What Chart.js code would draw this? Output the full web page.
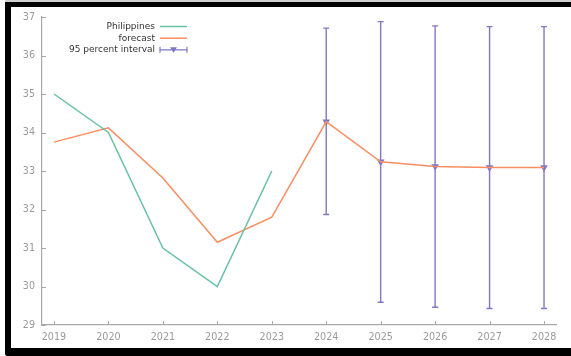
<!DOCTYPE html>
<html>
<head>
<meta charset="utf-8">
<script src="https://cdn.jsdelivr.net/npm/chart.js@4/dist/chart.umd.min.js"></script>
<style>
  html, body { margin: 0; padding: 0; background: #fff; overflow: hidden; }
  #wrap { position: relative; width: 571px; height: 356px; overflow: hidden; }
  #chart { position: absolute; left: 0; top: 0; }
  #frame {
    position: absolute; left: 5px; top: 2px; width: 566px; height: 354px;
    box-sizing: border-box;
    border-left: 6px solid #000; border-top: 5px solid #000; border-bottom: 8px solid #000;
    border-bottom-left-radius: 3px;
    pointer-events: none;
  }
  #edge { position: absolute; left: 5px; top: 0; width: 566px; height: 2px; background: #d0d0d0; }
</style>
</head>
<body>
<div id="wrap">
  <canvas id="chart" width="571" height="356"></canvas>
  <div id="edge"></div>
  <div id="frame"></div>
</div>
<script>
// Years on the x axis
const years = [2019, 2020, 2021, 2022, 2023, 2024, 2025, 2026, 2027, 2028];
// Observed series
const philippines = [35, 34, 31, 30, 33, null, null, null, null, null];
// Model fit and forecast
const forecast = [33.75, 34.12, 32.82, 31.15, 31.8, 34.28, 33.24, 33.12, 33.09, 33.09];
// 95 percent interval bounds
const intervalLower = [null, null, null, null, null, 31.87, 29.59, 29.46, 29.43, 29.43];
const intervalUpper = [null, null, null, null, null, 36.71, 36.88, 36.77, 36.75, 36.75];
// Y tick values
const yTicks = [29, 30, 31, 32, 33, 34, 35, 36, 37];
// Legend labels
const seriesNames = ['Philippines', 'forecast', '95 percent interval'];

const GREEN = '#66c2a5', ORANGE = '#fc8d62', PURPLE = '#7f78c4';
const AXIS = '#a8a8a8', TICKTXT = '#9a9a9a';
const FONT = 'DejaVu Sans';

const pts = arr => years.map((x, i) => ({ x, y: arr[i] }));
const intervalCenters = years.map((x, i) => ({ x, y: intervalLower[i] == null ? null : forecast[i] }));

// Error bars of the interval dataset, drawn right before its markers
const errorBars = {
  id: 'errorBars',
  beforeDatasetDraw(chart, args) {
    if (args.index !== 2) return;
    const { ctx, scales: { x, y } } = chart;
    ctx.save();
    ctx.strokeStyle = PURPLE;
    ctx.lineWidth = 1.4;
    years.forEach((yr, i) => {
      if (intervalLower[i] == null) return;
      const px = x.getPixelForValue(yr);
      const lo = y.getPixelForValue(intervalLower[i]);
      const hi = y.getPixelForValue(intervalUpper[i]);
      ctx.beginPath();
      ctx.moveTo(px, lo); ctx.lineTo(px, hi);
      ctx.moveTo(px - 3, lo); ctx.lineTo(px + 3, lo);
      ctx.moveTo(px - 3, hi); ctx.lineTo(px + 3, hi);
      ctx.stroke();
    });
    ctx.restore();
  }
};

// Inward tick marks on both axes
const innerTicks = {
  id: 'innerTicks',
  afterDraw(chart) {
    const { ctx, chartArea, scales: { x, y } } = chart;
    ctx.save();
    ctx.strokeStyle = AXIS;
    ctx.lineWidth = 1;
    ctx.beginPath();
    yTicks.forEach(v => {
      const py = Math.round(y.getPixelForValue(v)) + 0.5;
      ctx.moveTo(chartArea.left, py); ctx.lineTo(chartArea.left + 4, py);
    });
    years.forEach(v => {
      const px = Math.round(x.getPixelForValue(v)) + 0.5;
      ctx.moveTo(px, chartArea.bottom); ctx.lineTo(px, chartArea.bottom - 4);
    });
    ctx.stroke();
    ctx.restore();
  }
};

// Legend: right-aligned text followed by a line sample
const keyLegend = {
  id: 'keyLegend',
  afterDraw(chart) {
    const { ctx } = chart;
    const textRight = 155, x0 = 160, x1 = 187;
    const rows = [26.5, 38.2, 49.8];
    ctx.save();
    ctx.font = '9px "' + FONT + '"';
    ctx.fillStyle = '#333';
    ctx.textAlign = 'right';
    ctx.textBaseline = 'middle';
    seriesNames.forEach((name, i) => ctx.fillText(name, textRight, rows[i]));
    ctx.lineWidth = 1.5;
    ctx.strokeStyle = GREEN;
    ctx.beginPath(); ctx.moveTo(x0, rows[0]); ctx.lineTo(x1, rows[0]); ctx.stroke();
    ctx.strokeStyle = ORANGE;
    ctx.beginPath(); ctx.moveTo(x0, rows[1]); ctx.lineTo(x1, rows[1]); ctx.stroke();
    ctx.strokeStyle = PURPLE;
    ctx.lineWidth = 1.2;
    ctx.beginPath();
    ctx.moveTo(x0, rows[2]); ctx.lineTo(x1, rows[2]);
    ctx.moveTo(x0, rows[2] - 3); ctx.lineTo(x0, rows[2] + 3);
    ctx.moveTo(x1, rows[2] - 3); ctx.lineTo(x1, rows[2] + 3);
    ctx.stroke();
    const mx = (x0 + x1) / 2;
    ctx.fillStyle = PURPLE;
    ctx.beginPath();
    ctx.moveTo(mx - 3.5, rows[2] - 2.5); ctx.lineTo(mx + 3.5, rows[2] - 2.5); ctx.lineTo(mx, rows[2] + 3);
    ctx.closePath(); ctx.fill();
    ctx.restore();
  }
};

new Chart(document.getElementById('chart'), {
  type: 'line',
  data: {
    datasets: [
      { label: seriesNames[0], data: pts(philippines), borderColor: GREEN, borderWidth: 1.5, pointRadius: 0, tension: 0, spanGaps: false },
      { label: seriesNames[1], data: pts(forecast), borderColor: ORANGE, borderWidth: 1.5, pointRadius: 0, tension: 0 },
      { label: seriesNames[2], data: intervalCenters, showLine: false, pointStyle: 'triangle', rotation: 180,
        pointRadius: 4.4, pointBackgroundColor: PURPLE, pointBorderColor: PURPLE, pointBorderWidth: 0 }
    ]
  },
  options: {
    responsive: false,
    animation: false,
    events: [],
    layout: { padding: { left: 0, top: 17, right: 15, bottom: 0 } },
    plugins: { legend: { display: false }, tooltip: { enabled: false } },
    scales: {
      x: {
        type: 'linear',
        min: 2018.78, max: 2028.22,
        afterBuildTicks: s => { s.ticks = years.map(v => ({ value: v })); },
        afterFit: s => { s.height = 31; },
        grid: { display: true, drawOnChartArea: false, drawTicks: false },
        border: { display: true, color: AXIS, width: 1.2 },
        ticks: { color: TICKTXT, font: { family: FONT, size: 9.6 }, padding: 7, maxRotation: 0, callback: v => String(v) }
      },
      y: {
        min: 29, max: 37,
        afterBuildTicks: s => { s.ticks = yTicks.map(v => ({ value: v })); },
        afterFit: s => { s.width = 42; },
        grid: { display: true, drawOnChartArea: false, drawTicks: false },
        border: { display: true, color: AXIS, width: 1.2 },
        ticks: { color: TICKTXT, font: { family: FONT, size: 9.6 }, padding: 7, callback: v => String(v) }
      }
    }
  },
  plugins: [errorBars, innerTicks, keyLegend]
});
</script>
</body>
</html>
